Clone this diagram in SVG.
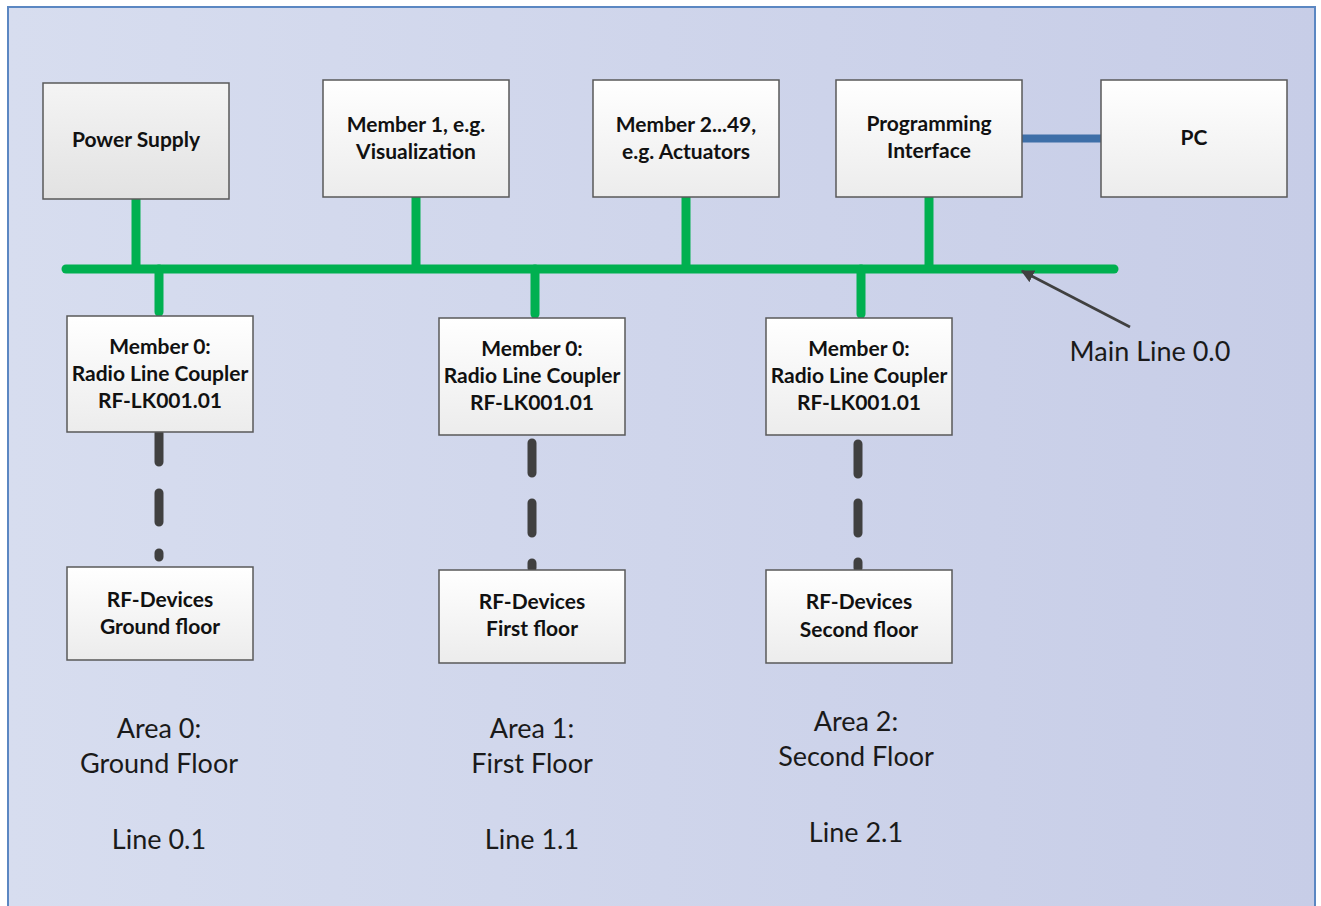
<svg xmlns="http://www.w3.org/2000/svg" width="1321" height="906" viewBox="0 0 1321 906">
<style>
.box{stroke:#595959;stroke-width:1.5}
.g1{fill:url(#gPS)}
.g2{fill:url(#gW)}
.b{font-family:Lato,"Open Sans","Liberation Sans",sans-serif;font-weight:bold;font-size:21px;fill:#111;text-anchor:middle}
.r{font-family:Lato,"Open Sans","Liberation Sans",sans-serif;font-size:27px;fill:#1a1a1a;text-anchor:middle}
.bus{stroke:#00b050;stroke-width:9;fill:none}
.rad{stroke:#404040;stroke-width:9;fill:none;stroke-linecap:round}
</style>
<defs>
<linearGradient id="bg" x1="0" y1="0" x2="1" y2="0">
<stop offset="0" stop-color="#d7ddef"/>
<stop offset="1" stop-color="#c7cde7"/>
</linearGradient>
<linearGradient id="gPS" x1="0" y1="0" x2="0" y2="1">
<stop offset="0" stop-color="#f4f4f4"/>
<stop offset="1" stop-color="#e2e2e2"/>
</linearGradient>
<linearGradient id="gW" x1="0" y1="0" x2="0" y2="1">
<stop offset="0" stop-color="#ffffff"/>
<stop offset="1" stop-color="#ececec"/>
</linearGradient>
<marker id="ah" viewBox="0 0 10 10" refX="9" refY="5" markerWidth="5" markerHeight="5" orient="auto" markerUnits="strokeWidth">
<path d="M0,0 L10,5 L0,10 z" fill="#404040"/>
</marker>
</defs>
<rect x="0" y="0" width="1321" height="906" fill="#ffffff"/>
<rect x="8" y="7" width="1307" height="910" fill="url(#bg)" stroke="#5b87c2" stroke-width="2"/>

<g id="connectors">
<line class="bus" x1="66" y1="269" x2="1114" y2="269" stroke-linecap="round"/>
<line class="bus" x1="136" y1="199" x2="136" y2="269"/>
<line class="bus" x1="416" y1="197" x2="416" y2="269"/>
<line class="bus" x1="686" y1="197" x2="686" y2="269"/>
<line class="bus" x1="929" y1="197" x2="929" y2="269"/>
<path class="bus" d="M159,269 V312" stroke-linecap="round"/>
<path class="bus" d="M535,269 V314" stroke-linecap="round"/>
<path class="bus" d="M861,269 V314" stroke-linecap="round"/>
<line x1="1022" y1="138.5" x2="1101" y2="138.5" stroke="#3e6fa8" stroke-width="8"/>
<path class="rad" d="M159,433 V557" stroke-dasharray="29 31"/>
<path class="rad" d="M532,443 V568" stroke-dasharray="30 30"/>
<path class="rad" d="M858,444 V568" stroke-dasharray="30 29"/>
<line x1="1130" y1="327" x2="1022" y2="271" stroke="#404040" stroke-width="2.6" marker-end="url(#ah)"/>
</g>

<g id="power-supply">
<rect class="box g1" x="43" y="83" width="186" height="116"/>
<text class="b" x="136" y="147">Power Supply</text>
</g>
<g id="member1">
<rect class="box g2" x="323" y="80" width="186" height="117"/>
<text class="b" x="416" y="132">Member 1, e.g.</text>
<text class="b" x="416" y="159">Visualization</text>
</g>
<g id="member2">
<rect class="box g2" x="593" y="80" width="186" height="117"/>
<text class="b" x="686" y="132">Member 2...49,</text>
<text class="b" x="686" y="159">e.g. Actuators</text>
</g>
<g id="programming-interface">
<rect class="box g2" x="836" y="80" width="186" height="117"/>
<text class="b" x="929" y="131">Programming</text>
<text class="b" x="929" y="158">Interface</text>
</g>
<g id="pc">
<rect class="box g2" x="1101" y="80" width="186" height="117"/>
<text class="b" x="1194" y="145">PC</text>
</g>

<g id="coupler0">
<rect class="box g2" x="67" y="316" width="186" height="116"/>
<text class="b" x="160" y="354">Member 0:</text>
<text class="b" x="160" y="381">Radio Line Coupler</text>
<text class="b" x="160" y="408">RF-LK001.01</text>
</g>
<g id="coupler1">
<rect class="box g2" x="439" y="318" width="186" height="117"/>
<text class="b" x="532" y="356">Member 0:</text>
<text class="b" x="532" y="383">Radio Line Coupler</text>
<text class="b" x="532" y="410">RF-LK001.01</text>
</g>
<g id="coupler2">
<rect class="box g2" x="766" y="318" width="186" height="117"/>
<text class="b" x="859" y="356">Member 0:</text>
<text class="b" x="859" y="383">Radio Line Coupler</text>
<text class="b" x="859" y="410">RF-LK001.01</text>
</g>

<g id="rf0">
<rect class="box g2" x="67" y="567" width="186" height="93"/>
<text class="b" x="160" y="607">RF-Devices</text>
<text class="b" x="160" y="634">Ground floor</text>
</g>
<g id="rf1">
<rect class="box g2" x="439" y="570" width="186" height="93"/>
<text class="b" x="532" y="609">RF-Devices</text>
<text class="b" x="532" y="636">First floor</text>
</g>
<g id="rf2">
<rect class="box g2" x="766" y="570" width="186" height="93"/>
<text class="b" x="859" y="609">RF-Devices</text>
<text class="b" x="859" y="637">Second floor</text>
</g>

<g id="labels">
<text class="r" x="1150" y="361">Main Line 0.0</text>
<text class="r" x="159" y="738">Area 0:</text>
<text class="r" x="159" y="773">Ground Floor</text>
<text class="r" x="159" y="849">Line 0.1</text>
<text class="r" x="532" y="738">Area 1:</text>
<text class="r" x="532" y="773">First Floor</text>
<text class="r" x="532" y="849">Line 1.1</text>
<text class="r" x="856" y="731">Area 2:</text>
<text class="r" x="856" y="766">Second Floor</text>
<text class="r" x="856" y="842">Line 2.1</text>
</g>
</svg>
